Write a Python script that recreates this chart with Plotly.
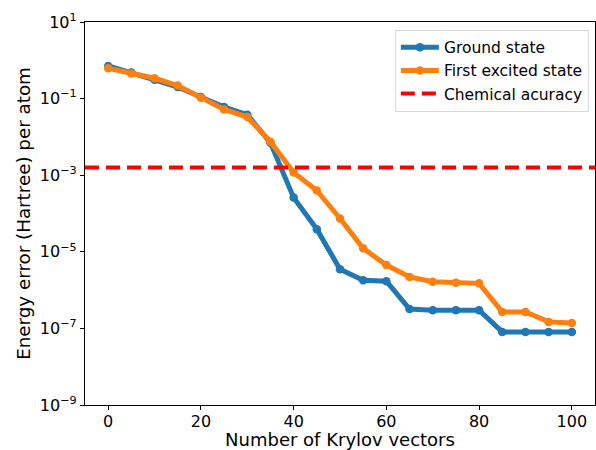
import plotly.graph_objects as go

krylov = [0, 5, 10, 15, 20, 25, 30, 35, 40, 45, 50, 55, 60, 65, 70, 75, 80, 85, 90, 95, 100]
ground = [0.71, 0.48, 0.31, 0.20, 0.11, 0.060, 0.038, 0.0070, 2.6e-4, 3.9e-5, 3.5e-6, 1.8e-6, 1.7e-6,
          3.2e-7, 3.0e-7, 3.0e-7, 3.0e-7, 8.1e-8, 8.1e-8, 8.1e-8, 8.1e-8]
excited = [0.62, 0.45, 0.34, 0.22, 0.105, 0.052, 0.033, 0.0075, 1.17e-3, 4.0e-4, 7.4e-5, 1.23e-5, 4.5e-6,
           2.2e-6, 1.65e-6, 1.55e-6, 1.5e-6, 2.7e-7, 2.7e-7, 1.48e-7, 1.38e-7]
chem_acc = 1.6e-3
x_limits = [-5, 105]
y_tickvals = [1e1, 1e-1, 1e-3, 1e-5, 1e-7, 1e-9]
y_ticktext = ["10<sup>1</sup>", "10<sup>−1</sup>", "10<sup>−3</sup>", "10<sup>−5</sup>",
              "10<sup>−7</sup>", "10<sup>−9</sup>"]
x_tickvals = [0, 20, 40, 60, 80, 100]

FONT = "DejaVu Sans"

fig = go.Figure()
fig.add_trace(go.Scatter(x=krylov, y=ground, mode="lines+markers", name="Ground state",
                         line=dict(color="#1f77b4", width=5), marker=dict(size=8.5, color="#1f77b4")))
fig.add_trace(go.Scatter(x=krylov, y=excited, mode="lines+markers", name="First excited state",
                         line=dict(color="#ff7f0e", width=5), marker=dict(size=8.5, color="#ff7f0e")))
fig.add_trace(go.Scatter(x=x_limits, y=[chem_acc, chem_acc], mode="lines", name="Chemical acuracy",
                         line=dict(color="red", width=4, dash="14px,7px")))

axis_common = dict(showline=True, linecolor="black", linewidth=1.3, mirror=True,
                   ticks="outside", ticklen=4, tickwidth=1.2, tickcolor="black",
                   showgrid=False, zeroline=False,
                   tickfont=dict(family=FONT, size=16, color="black"))

fig.update_xaxes(range=x_limits, tickvals=x_tickvals, ticklabelstandoff=-2,
                 title=dict(text="Number of Krylov vectors", font=dict(family=FONT, size=18, color="black"),
                            standoff=4),
                 **axis_common)
fig.update_yaxes(type="log", range=[-9, 1], tickvals=y_tickvals, ticktext=y_ticktext,
                 title=dict(text="Energy error (Hartree) per atom", font=dict(family=FONT, size=18.3, color="black"),
                            standoff=4),
                 **axis_common)

fig.update_layout(
    width=596, height=450,
    margin=dict(l=85, r=1, t=22, b=45),
    paper_bgcolor="white", plot_bgcolor="white",
    font=dict(family=FONT, color="black"),
    legend=dict(x=0.988, y=0.98, xanchor="right", yanchor="top",
                bgcolor="white", bordercolor="#d9d9d9", borderwidth=1,
                font=dict(family=FONT, size=15.5, color="black"),
                tracegroupgap=0, itemwidth=38),
    showlegend=True,
)

fig.write_html("out.html")
